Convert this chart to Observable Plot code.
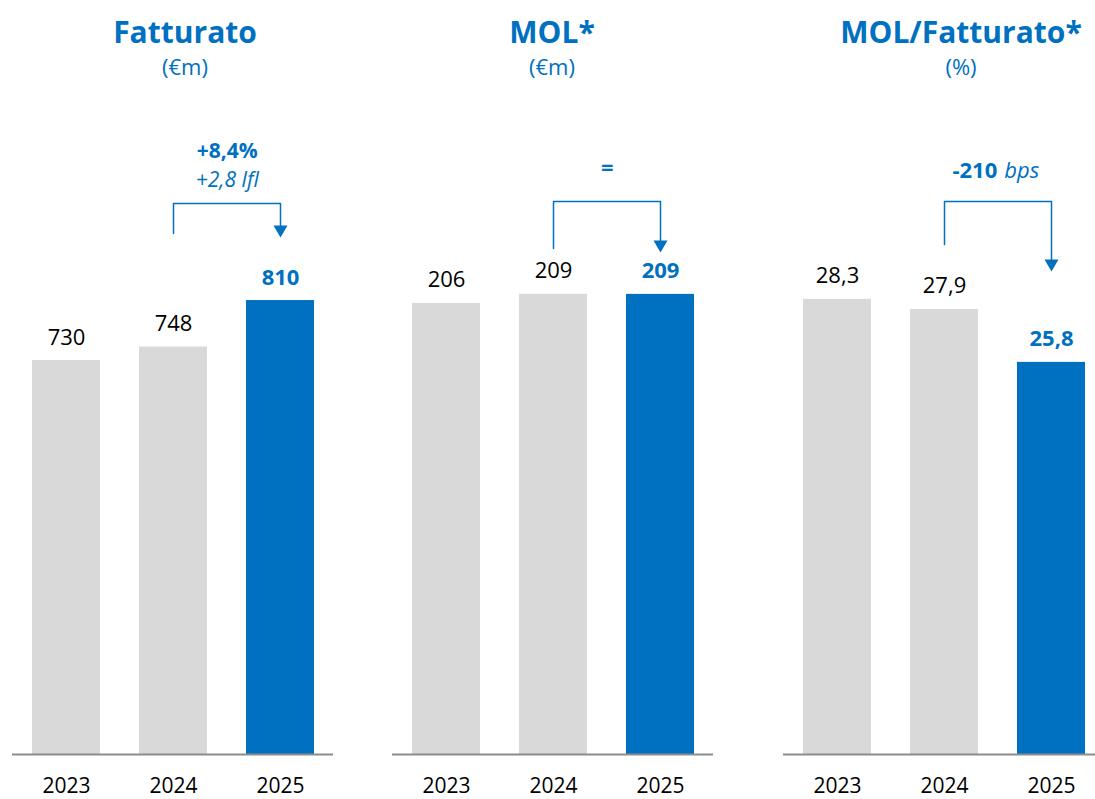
<!DOCTYPE html>
<html><head><meta charset="utf-8">
<script src="https://cdn.jsdelivr.net/npm/d3@7"></script>
<script src="https://cdn.jsdelivr.net/npm/@observablehq/plot@0.6"></script>
<style>
html,body{margin:0;padding:0;background:#fff;overflow:hidden;width:1095px;height:799px;}
#root{position:relative;width:1095px;height:799px;overflow:hidden;font-family:"Open Sans",sans-serif;}
.title{position:absolute;color:#0070c0;font-weight:700;font-size:30px;transform:translate(-50%,-50%);white-space:nowrap;line-height:1;}
.unit{position:absolute;color:#0070c0;font-size:22px;transform:translate(-50%,-50%);white-space:nowrap;line-height:1;}
.panel{position:absolute;top:95px;width:365px;height:704px;}
.panel svg{max-width:none !important;}
</style></head><body><div id="root"></div>
<script>
// ---- data ----
const years = ["2023", "2024", "2025"];
const fatturato = [730, 748, 810];
const mol = [206, 209, 209];
const margine = [28.3, 27.9, 25.8];
const fatturatoLabels = ["730", "748", "810"];
const molLabels = ["206", "209", "209"];
const margineLabels = ["28,3", "27,9", "25,8"];
const titles = ["Fatturato", "MOL*", "MOL/Fatturato*"];
const units = ["(€m)", "(€m)", "(%)"];
const deltaMain = ["+8,4%", "=", "-210"];
const deltaSub = ["+2,8 lfl", "", "bps"];

// ---- style / layout ----
const BLUE = "#0070c0", GRAY = "#d9d9d9", AXIS = "#8c8c8c";
const FONT = "'Open Sans', sans-serif";
const W = 365, H = 704, mB = 45, mT = 0, mL = 12, mR = 32;
const root = document.getElementById("root");

function panel(idx, values, labels, domain, left, titleX, ann) {
  const data = years.map((year, i) => ({year, value: values[i], label: labels[i], current: i === years.length - 1}));
  const base = domain[0];
  const yS = Plot.scale({y: {domain, range: [H - mB, mT]}});
  const py = (p) => yS.invert(p);
  const from = years[1], to = years[2];
  const r = 5.2;
  const hy = Math.sqrt(Math.PI * r * r / (Math.sqrt(3) * 3)); // triangle centroid geometry
  const bracket = [
    {x: from, y: py(ann.leftBottom)},
    {x: from, y: py(ann.top)},
    {x: to, y: py(ann.top)},
    {x: to, y: py(ann.tip - 2 * hy)}
  ];
  const half = 53.75;
  const fs = ann.fs || 22;
  const marks = [
    Plot.barY(data, {filter: d => !d.current, x: "year", y1: base, y2: "value", fill: GRAY}),
    Plot.barY(data, {filter: d => d.current, x: "year", y1: base, y2: "value", fill: BLUE}),
    Plot.ruleY([base], {stroke: AXIS, strokeWidth: 2}),
    Plot.text(data, {filter: d => !d.current, x: "year", y: "value", text: "label", lineAnchor: "bottom", dy: -16, fontSize: 22, fill: "#000"}),
    Plot.text(data, {filter: d => d.current, x: "year", y: "value", text: "label", lineAnchor: "bottom", dy: -16, fontSize: 22, fontWeight: 700, fill: BLUE}),
    Plot.axisX({tickSize: 0, tickPadding: 24, fontSize: 21, fill: "#000", color: "#000"}),
    Plot.line(bracket, {x: "x", y: "y", stroke: BLUE, strokeWidth: 1.5}),
    Plot.dot([{x: to, y: py(ann.tip - hy)}], {x: "x", y: "y", symbol: "triangle", rotate: 180, r, fill: BLUE, stroke: null})
  ];
  if (ann.split) {
    marks.push(Plot.text([deltaMain[idx]], {x: () => from, y: () => py(ann.main), text: d => d, dx: half - 1, textAnchor: "end", fontSize: fs, fontWeight: 700, fill: BLUE}));
    marks.push(Plot.text([deltaSub[idx]], {x: () => from, y: () => py(ann.main), text: d => d, dx: half + 6, textAnchor: "start", fontSize: fs, fontStyle: "italic", fill: BLUE}));
  } else {
    marks.push(Plot.text([deltaMain[idx]], {x: () => from, y: () => py(ann.main), text: d => d, dx: half, fontSize: fs, fontWeight: 700, fill: BLUE}));
    if (deltaSub[idx]) marks.push(Plot.text([deltaSub[idx]], {x: () => from, y: () => py(ann.sub), text: d => d, dx: half, fontSize: fs, fontStyle: "italic", fill: BLUE}));
  }
  const chart = Plot.plot({
    width: W, height: H, marginTop: mT, marginBottom: mB, marginLeft: mL, marginRight: mR,
    style: {fontFamily: FONT, background: "transparent", overflow: "visible", maxWidth: "none"},
    x: {type: "band", domain: years, paddingInner: 0.367, paddingOuter: 0.177, axis: null},
    y: {domain, axis: null},
    marks
  });
  const wrap = document.createElement("div");
  wrap.className = "panel";
  wrap.style.left = left + "px";
  wrap.appendChild(chart);
  root.appendChild(wrap);
  const t = document.createElement("div");
  t.className = "title"; t.textContent = titles[idx];
  t.style.left = titleX + "px"; t.style.top = "32px";
  root.appendChild(t);
  const u = document.createElement("div");
  u.className = "unit"; u.textContent = units[idx];
  u.style.left = titleX + "px"; u.style.top = "66px";
  root.appendChild(u);
}

panel(0, fatturato, fatturatoLabels, [204.7, 1083.4], 0, 185, {leftBottom: 138, top: 108, tip: 138, main: 56, sub: 85, fs: 21});
panel(1, mol, molLabels, [55.6, 275.3], 380, 552, {leftBottom: 153, top: 106, tip: 153, main: 72});
panel(2, margine, margineLabels, [10.24, 36.39], 771, 961, {leftBottom: 149, top: 106, tip: 172, main: 75, split: true});
</script></body></html>
